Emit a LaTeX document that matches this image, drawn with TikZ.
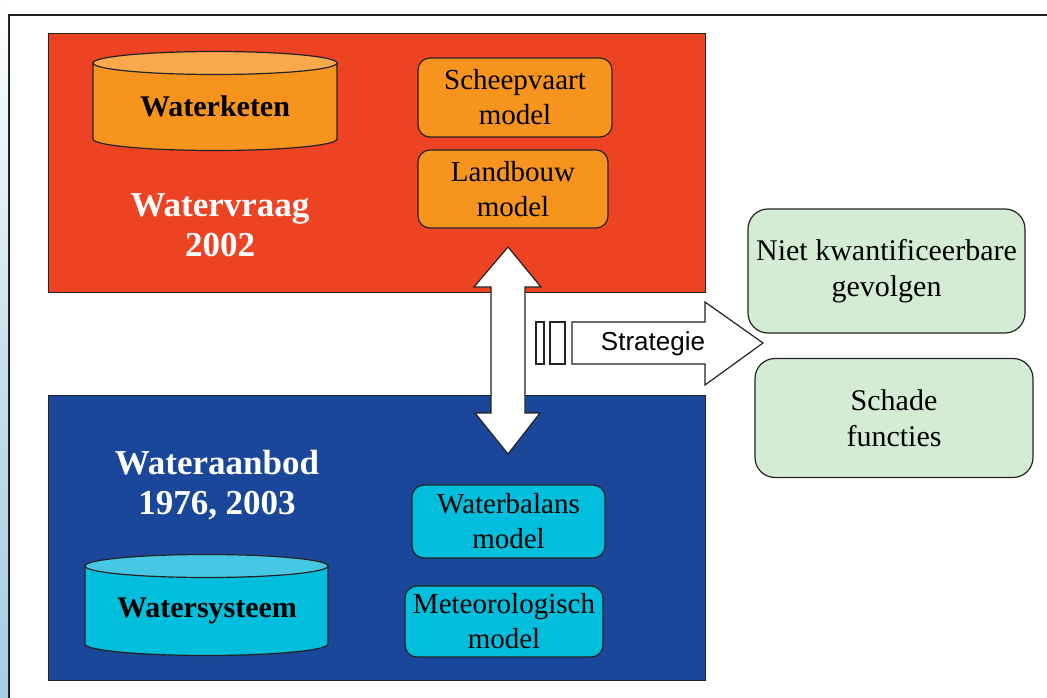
\documentclass[tikz,border=0pt]{standalone}
\usepackage{fontspec}
\setmainfont{Liberation Serif}
\newfontfamily\arialfont{Liberation Sans}
\definecolor{redc}{RGB}{238,67,35}
\definecolor{orangec}{RGB}{247,148,30}
\definecolor{orangetop}{RGB}{249,168,75}
\definecolor{bluec}{RGB}{27,71,155}
\definecolor{cyanc}{RGB}{0,190,220}
\definecolor{cyantop}{RGB}{70,200,228}
\definecolor{greenc}{RGB}{212,236,212}
\definecolor{edge}{RGB}{35,35,35}
\definecolor{water}{RGB}{165,205,225}
\begin{document}
\begin{tikzpicture}[x=1pt,y=-1pt,line join=miter]
\tikzset{
  panel/.style={draw=edge, line width=0.8pt, anchor=north west, inner sep=0pt},
  modelbox/.style={draw=edge, line width=1.2pt, rounded corners=12pt, align=center, inner sep=0pt,
    font=\fontsize{29}{35}\selectfont},
  effectbox/.style={draw=edge, line width=1.2pt, rounded corners=20pt, align=center, inner sep=0pt,
    fill=greenc, font=\fontsize{30}{36}\selectfont},
  title/.style={text=white, align=center, font=\bfseries\fontsize{35}{40}\selectfont},
  cyltext/.style={font=\bfseries\fontsize{30}{34}\selectfont},
  blockarrow/.style={draw=edge, line width=1.2pt, fill=white}
}
\useasboundingbox (0,0) rectangle (1047,698);
\fill[white] (0,0) rectangle (1047,698);
\shade[top color=white, bottom color=water, middle color=water!60] (0,0) rectangle (8,698);
\draw[line width=2.5pt, edge] (9,698) -- (9,15) -- (1047,15);

% panels
\node[panel, fill=redc, minimum width=657pt, minimum height=259pt] (demand) at (48,33) {};
\node[panel, fill=bluec, minimum width=657pt, minimum height=285pt] (supply) at (48,395) {};

% cylinder Waterketen
\fill[orangec, draw=edge, line width=1.2pt] (93,63) -- (93,139)
  arc[start angle=180, end angle=360, x radius=122pt, y radius=11.5pt] -- (337,63) -- cycle;
\draw[fill=orangetop, draw=edge, line width=1.2pt] (215,63) ellipse [x radius=122pt, y radius=11.5pt];
\node[cyltext] (keten) at (215,106) {Waterketen};

% cylinder Watersysteem
\fill[cyanc, draw=edge, line width=1.2pt] (85,566) -- (85,644)
  arc[start angle=180, end angle=360, x radius=121.5pt, y radius=11.5pt] -- (328,566) -- cycle;
\draw[fill=cyantop, draw=edge, line width=1.2pt] (206.5,566) ellipse [x radius=121.5pt, y radius=11.5pt];
\node[cyltext] (systeem) at (207,611) {Watersysteem};

% titles
\node[title] (vraag) at (220,225) {Watervraag\\2002};
\node[title] (aanbod) at (217,485) {Wateraanbod\\1976, 2003};

% model boxes
\node[modelbox, fill=orangec, minimum width=194pt, minimum height=79pt] (scheep) at (515,97.5) {Scheepvaart\\model};
\node[modelbox, fill=orangec, minimum width=190pt, minimum height=78pt] (landbouw) at (513,189) {Landbouw\\model};
\node[modelbox, fill=cyanc, minimum width=193pt, minimum height=73pt] (balans) at (508.5,521.5) {Waterbalans\\model};
\node[modelbox, fill=cyanc, minimum width=198pt, minimum height=71pt] (meteo) at (504,621.5) {Meteorologisch\\model};

% effect boxes
\node[effectbox, minimum width=277pt, minimum height=124pt] (niet) at (886.5,271) {Niet kwantificeerbare\\gevolgen};
\node[effectbox, minimum width=278pt, minimum height=119pt] (schade) at (894,418) {Schade\\functies};

% double arrow between demand and supply
\draw[blockarrow] (508,247) -- (541,287) -- (525,287) -- (525,413) -- (540,413) -- (508,454)
  -- (475,413) -- (491,413) -- (491,287) -- (474,287) -- cycle;

% strategy arrow
\draw[blockarrow] (536,322) rectangle (544,364);
\draw[blockarrow] (550,322) rectangle (565,364);
\draw[blockarrow] (572,322) -- (705,322) -- (705,302) -- (763,343) -- (705,385) -- (705,364) -- (572,364) -- cycle;
\node[font=\arialfont\fontsize{26}{30}\selectfont] (strat) at (653,344) {Strategie};
\end{tikzpicture}
\end{document}
